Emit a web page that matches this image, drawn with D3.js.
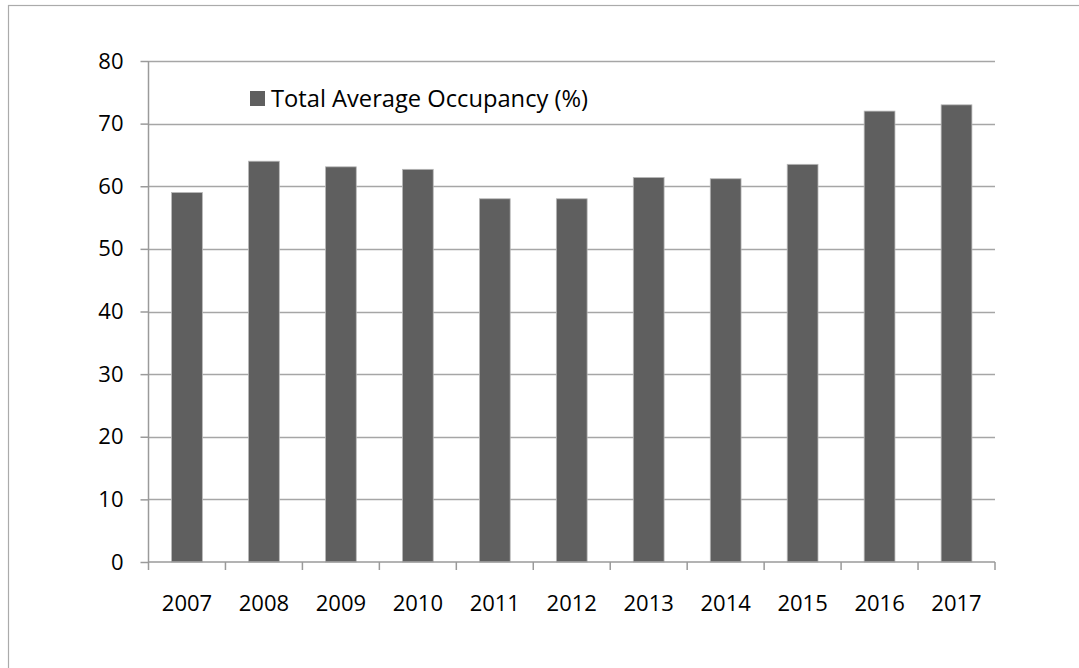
<!DOCTYPE html>
<html>
<head>
<meta charset="utf-8">
<script src="https://cdn.jsdelivr.net/npm/d3@7"></script>
<style>
  html, body { margin: 0; padding: 0; background: #fff; }
  svg { display: block; }
  text { font-family: "Open Sans", "Noto Sans", sans-serif; fill: #000; }
</style>
</head>
<body>
<svg id="chart" width="1079" height="668"></svg>
<script>
// Yearly occupancy figures
const years = ["2007", "2008", "2009", "2010", "2011", "2012", "2013", "2014", "2015", "2016", "2017"];
const occupancy = [59, 64, 63.1, 62.7, 58, 58, 61.4, 61.2, 63.5, 72, 73];
const yTicks = [0, 10, 20, 30, 40, 50, 60, 70, 80];
const seriesName = "Total Average Occupancy (%)";

const svg = d3.select("#chart");
const plot = { left: 148.5, right: 995, top: 61, bottom: 562 };

// Outer frame of the chart
svg.append("rect")
  .attr("x", 8.5).attr("y", 5.5)
  .attr("width", 1200).attr("height", 800)
  .attr("fill", "none").attr("stroke", "#ababab").attr("stroke-width", 1.2);

const x = d3.scaleBand()
  .domain(years)
  .range([plot.left, plot.right])
  .paddingInner(0.6)
  .paddingOuter(0.3);

const y = d3.scaleLinear()
  .domain([0, 80])
  .range([plot.bottom, plot.top]);

// Horizontal gridlines
svg.append("g")
  .selectAll("line")
  .data(yTicks.filter(d => d > 0))
  .join("line")
  .attr("x1", plot.left).attr("x2", plot.right)
  .attr("y1", d => Math.round(y(d)) + 0.5).attr("y2", d => Math.round(y(d)) + 0.5)
  .attr("stroke", "#a6a6a6").attr("stroke-width", 1.5);

// Bars
svg.append("g")
  .selectAll("rect")
  .data(years.map((yr, i) => ({ yr, v: occupancy[i] })))
  .join("rect")
  .attr("x", d => x(d.yr))
  .attr("y", d => y(d.v))
  .attr("width", x.bandwidth())
  .attr("height", d => y(0) - y(d.v))
  .attr("fill", "#5f5f5f")
  .attr("stroke", "#b8b8b8")
  .attr("stroke-width", 0.8);

// Y axis
const yAxis = d3.axisLeft(y)
  .tickValues(yTicks)
  .tickSize(8)
  .tickPadding(17)
  .tickFormat(d3.format("d"));
const gy = svg.append("g")
  .attr("transform", `translate(${plot.left},0)`)
  .call(yAxis);
gy.select(".domain").attr("stroke", "#9a9a9a").attr("stroke-width", 1.5)
  .attr("d", `M-0,${plot.top}V${plot.bottom}`);
gy.selectAll(".tick line").attr("stroke", "#9a9a9a").attr("stroke-width", 1.5);
gy.selectAll(".tick text")
  .attr("font-size", 22)
  .attr("font-family", "Open Sans")
  .attr("fill", "#000");

// X axis: ticks sit on category boundaries
const boundaries = d3.range(years.length + 1).map(i => plot.left + i * x.step());
const gx = svg.append("g")
  .attr("transform", `translate(0,${plot.bottom})`);
gx.append("line")
  .attr("x1", plot.left).attr("x2", plot.right)
  .attr("stroke", "#9a9a9a").attr("stroke-width", 1.5);
gx.selectAll(".bt")
  .data(boundaries)
  .join("line")
  .attr("class", "bt")
  .attr("x1", d => d).attr("x2", d => d)
  .attr("y1", 0).attr("y2", 8)
  .attr("stroke", "#9a9a9a").attr("stroke-width", 1.5);
gx.selectAll(".lbl")
  .data(years)
  .join("text")
  .attr("class", "lbl")
  .attr("x", d => x(d) + x.bandwidth() / 2)
  .attr("y", 49)
  .attr("text-anchor", "middle")
  .attr("font-size", 22)
  .text(d => d);

// Legend
const legend = svg.append("g").attr("transform", "translate(250,91)");
legend.append("rect")
  .attr("width", 15).attr("height", 15)
  .attr("fill", "#5f5f5f");
legend.append("text")
  .attr("x", 21).attr("y", 15.5)
  .attr("font-size", 23.7)
  .text(seriesName);
</script>
</body>
</html>
